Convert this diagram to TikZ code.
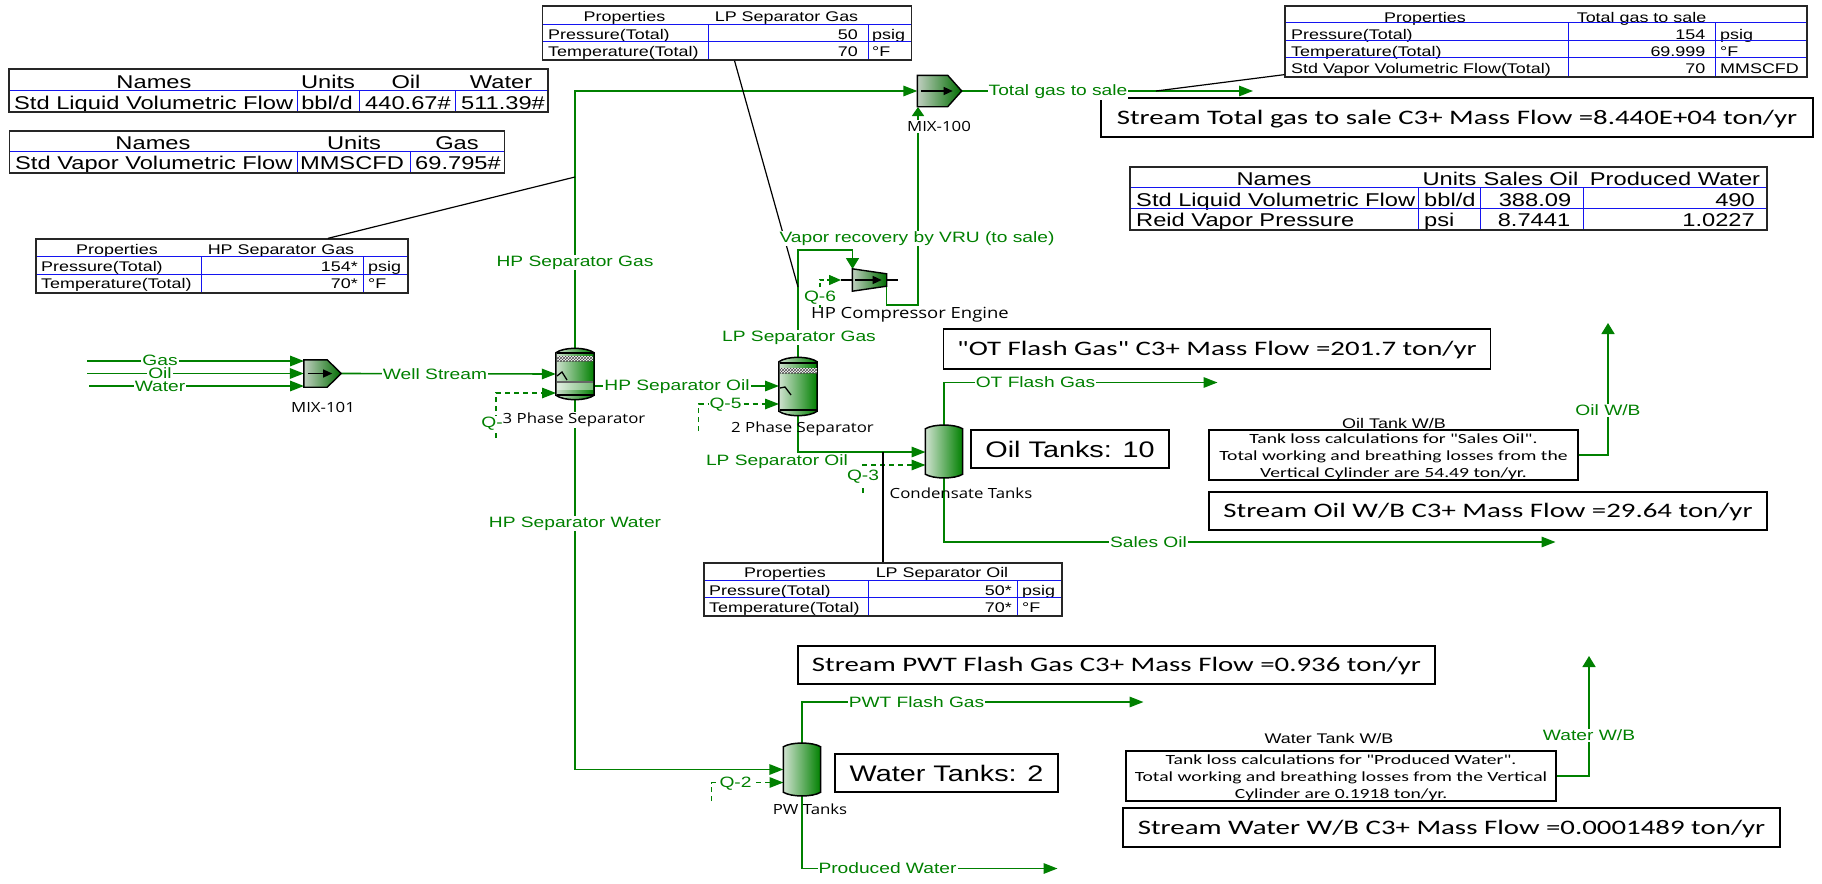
\documentclass[tikz,border=0pt]{standalone}
\usepackage{fontspec}
\usepackage{tikz}
\usetikzlibrary{arrows.meta,patterns}
\newfontfamily\tabfont[FakeStretch=1.28]{Liberation Sans}
\newfontfamily\boxfont[FakeStretch=1.4]{Carlito}
\newfontfamily\tagfont[FakeStretch=1.2]{Open Sans}
\definecolor{streamgreen}{RGB}{0,128,0}
\definecolor{palegreen}{RGB}{208,226,208}
\definecolor{gridblue}{RGB}{20,20,240}
\def\tankdome{8pt}

\def\tankbody#1#2{\draw[tank body] ([yshift=-#2]#1.north west) .. controls ([xshift=\tankdome,yshift=1pt]#1.north west) and ([xshift=-\tankdome,yshift=1pt]#1.north east) .. ([yshift=-#2]#1.north east) -- ([yshift=#2]#1.south east) .. controls ([xshift=-\tankdome,yshift=-1pt]#1.south east) and ([xshift=\tankdome,yshift=-1pt]#1.south west) .. ([yshift=#2]#1.south west) -- cycle;}
\def\mixerbody#1{\draw[mixer body] (#1.north west) -- ([xshift=-14pt]#1.north east) -- (#1.east) -- ([xshift=-14pt]#1.south east) -- (#1.south west) -- cycle;
	\draw[-{Triangle[length=9pt,width=8pt]},black,line width=1.3pt] ([xshift=4pt]#1.west) -- ([xshift=-9pt]#1.east);}

\begin{document}
\begin{tikzpicture}[x=1pt,y=-1pt,>={Triangle[length=14pt,width=10.5pt]}]
		\tikzstyle{stream}=[->,draw=streamgreen,fill=none,line width=1.6pt]
		\tikzstyle{riser}=[-{Triangle[length=11pt,width=13pt]},draw=streamgreen,line width=1.6pt]
		\tikzstyle{energy}=[stream,dash pattern=on 5pt off 4pt,line width=1.4pt]
		\tikzstyle{leader}=[draw=black,line width=1.2pt]
		\tikzstyle{grid line}=[draw=gridblue,line width=1pt]
		\tikzstyle{tab frame}=[draw=black!85,line width=1.3pt,inner sep=0pt]
		\tikzstyle{big cell}=[font=\tabfont\fontsize{18.5}{20}\selectfont,inner sep=0pt,text height=.72em,text depth=.08em,yshift=-4pt]
		\tikzstyle{small cell}=[font=\tabfont\fontsize{14}{16}\selectfont,inner sep=0pt,text height=.72em,text depth=.08em,yshift=-3.5pt]
		\tikzstyle{stream label}=[font=\tabfont\fontsize{15}{16}\selectfont,text=streamgreen,fill=white,inner sep=1pt,yshift=-1.5pt]
		\tikzstyle{equip label}=[font=\tagfont\fontsize{14}{16}\selectfont,text=black,inner sep=1pt,yshift=-2pt]
		\tikzstyle{result box}=[draw=black,line width=1.3pt,inner sep=0pt,text height=13pt,text depth=0pt,font=\boxfont\fontsize{20.6}{22}\selectfont]
		\tikzstyle{count box}=[draw=black,line width=1.3pt,inner sep=0pt,font=\tabfont\fontsize{22.5}{24}\selectfont]
		\tikzstyle{note box}=[draw=black,line width=1.3pt,inner sep=0pt,align=center,font=\boxfont\fontsize{14}{17}\selectfont]
		\tikzstyle{tank body}=[draw=black,line width=1.5pt,left color=palegreen,right color=streamgreen]
		\tikzstyle{mixer body}=[draw=black,line width=1.4pt,left color=palegreen!80!gray,right color=streamgreen!85!black]
		\tikzstyle{mesh band}=[pattern=crosshatch,pattern color=black!70]

		\useasboundingbox (0,0) rectangle (1822,883);

		\node[minimum width=37pt,minimum height=27pt,inner sep=0pt] (M-1) at (322.5,373.5) {};
		\node[minimum width=44pt,minimum height=31pt,inner sep=0pt] (M-2) at (939.5,91) {};
		\node[minimum width=38pt,minimum height=52pt,inner sep=0pt] (S-1) at (575,374) {};
		\node[minimum width=38pt,minimum height=59pt,inner sep=0pt] (S-2) at (798,386.5) {};
		\node[minimum width=37pt,minimum height=53pt,inner sep=0pt] (V-1) at (944,451.5) {};
		\node[minimum width=37pt,minimum height=53pt,inner sep=0pt] (V-2) at (802,769.5) {};
		\node[minimum width=34pt,minimum height=22pt,inner sep=0pt] (C-1) at (869.5,280) {};

		\coordinate (G-a) at (87,361);
		\coordinate (G-b) at (304,361);
		\coordinate (O-a) at (87,373.5);
		\coordinate (W-a) at (89,386);
		\coordinate (W-b) at (304,386);
		\coordinate (Q1-a) at (496,438);
		\coordinate (Q1-b) at (556,393);
		\coordinate (HG-j) at (575,177);
		\coordinate (Q5-a) at (698.6,431);
		\coordinate (Q5-b) at (779,404);
		\coordinate (HO-a) at (594,386);
		\coordinate (HO-b) at (779,386);
		\coordinate (LO-b) at (925.5,452);
		\coordinate (LO-j) at (883,452);
		\coordinate (Q3-a) at (863,493);
		\coordinate (Q3-b) at (925.5,465);
		\coordinate (OT-b) at (1217.5,382.5);
		\coordinate (SO-b) at (1555.5,542);
		\coordinate (Q2-a) at (711.5,801);
		\coordinate (Q2-b) at (783.5,782.5);
		\coordinate (PF-b) at (1143.5,702);
		\coordinate (PR-b) at (1057.5,868.5);
		\coordinate (TG-j) at (1156,91);
		\coordinate (TG-b) at (1253,91);
		\coordinate (LG-j) at (798,287);
		\coordinate (Q6-a) at (820,308);
		\coordinate (Q6-b) at (841,280);
		\coordinate (CO-a) at (886.5,284);
		\coordinate (CO-b) at (918,305);
		\coordinate (CO-c) at (918,107);
		\coordinate (VR-a) at (798,250);
		\coordinate (VR-b) at (852.5,269);
		\coordinate (OB-b) at (1608,323);
		\coordinate (WB-b) at (1589,656);

		\draw[stream] (G-a) -- (G-b);
		\draw[stream] (O-a) -- (M-1.west);
		\draw[stream] (W-a) -- (W-b);
		\draw[stream] (M-1.east) -- (S-1.west);
		\draw[energy] (Q1-a) |- (Q1-b);
		\draw[stream] (S-1.north) |- (M-2.west);
		\draw[stream] (S-1.south) |- (V-2.west);
		\draw[stream] (HO-a) -- (HO-b);
		\draw[energy] (Q5-a) |- (Q5-b);
		\draw[riser] (S-2.north) -- (VR-a) -| (VR-b);
		\draw[stream] (S-2.south) |- (LO-b);
		\draw[energy] (Q3-a) |- (Q3-b);
		\draw[stream] (V-1.north) |- (OT-b);
		\draw[stream] (V-1.south) |- (SO-b);
		\draw[energy] (Q2-a) |- (Q2-b);
		\draw[stream] (V-2.north) |- (PF-b);
		\draw[stream] (V-2.south) |- (PR-b);
		\draw[stream] (M-2.east) -- (TG-b);
		\draw[stream,-{Triangle[length=9pt,width=12pt]}] (CO-a) |- (CO-b) -- (CO-c);
		\draw[energy,dash pattern=on 4pt off 3pt,-{Triangle[length=12pt,width=10pt]}] (Q6-a) |- (Q6-b);

		\draw[black,line width=1.3pt] (Q6-b) -- (C-1.west);
		\draw[black,line width=1.3pt] (C-1.east) -- ++(11,0);

		\tankbody{S-1}{5pt}
		\fill[white] (557,356) rectangle (593,361);
		\fill[mesh band] (557,356) rectangle (593,361);
		\draw[black,line width=1.2pt] (556.5,353) -- (593.5,353);
		\draw[black,line width=1.2pt] (556.5,395) -- (593.5,395);
		\fill[white,opacity=.45] (557,382) rectangle (593,390);
		\draw[black!60,line width=1.2pt] (557,382) -- (593,382);
		\draw[black,line width=1.3pt] (557,376) -- (562,372) -- (567,380);

		\tankbody{S-2}{5pt}
		\fill[white] (780,368) rectangle (817,373);
		\fill[mesh band] (780,368) rectangle (817,373);
		\draw[black,line width=1.2pt] (779.5,363) -- (816.5,363);
		\draw[black,line width=1.2pt] (779.5,410) -- (816.5,410);
		\draw[black,line width=1.3pt] (780,388) -- (785,387) -- (791,395);

		\tankbody{V-1}{4pt}
		\tankbody{V-2}{4pt}
		\mixerbody{M-1}
		\mixerbody{M-2}
		\draw[mixer body] (C-1.north west) -- ([yshift=-5pt]C-1.north east) -- ([yshift=5pt]C-1.south east) -- (C-1.south west) -- cycle;
		\draw[-{Triangle[length=9pt,width=8pt]},black,line width=1.3pt] ([xshift=3pt]C-1.west) -- ([xshift=-5pt]C-1.east);

		\node[big cell] (T1-a) at (154,81) {Names};
		\node[big cell] (T1-b) at (328,81) {Units};
		\node[big cell] (T1-c) at (406,81) {Oil};
		\node[big cell] (T1-d) at (501,81) {Water};
		\node[big cell,anchor=west] (T1-e) at (14,102) {Std Liquid Volumetric Flow};
		\node[big cell] (T1-f) at (327,102) {bbl/d};
		\node[big cell] (T1-g) at (408,102) {440.67\#};
		\node[big cell] (T1-h) at (503,102) {511.39\#};
		\draw[grid line] (9,90) -- (548,90);
		\draw[grid line] (297,90) -- (297,112);
		\draw[grid line] (359,90) -- (359,112);
		\draw[grid line] (455,90) -- (455,112);
		\node[tab frame,minimum width=539pt,minimum height=43pt] (T-1) at (278.5,90.5) {};

		\node[big cell] (T2-a) at (153,142) {Names};
		\node[big cell] (T2-b) at (354,142) {Units};
		\node[big cell] (T2-c) at (457,142) {Gas};
		\node[big cell,anchor=west] (T2-d) at (15,162) {Std Vapor Volumetric Flow};
		\node[big cell] (T2-e) at (352,162) {MMSCFD};
		\node[big cell] (T2-f) at (458,162) {69.795\#};
		\draw[grid line] (9.5,151.5) -- (505,151.5);
		\draw[grid line] (297,151.5) -- (297,173);
		\draw[grid line] (410,151.5) -- (410,173);
		\node[tab frame,minimum width=495.5pt,minimum height=42pt] (T-2) at (257,152) {};

		\node[small cell] (T3-a) at (117,248) {Properties};
		\node[small cell] (T3-b) at (281,248) {HP Separator Gas};
		\node[small cell,anchor=west] (T3-c) at (41,265) {Pressure(Total)};
		\node[small cell,anchor=east] (T3-d) at (358,265) {154*};
		\node[small cell,anchor=west] (T3-e) at (368,265) {psig};
		\node[small cell,anchor=west] (T3-f) at (41,282) {Temperature(Total)};
		\node[small cell,anchor=east] (T3-g) at (358,282) {70*};
		\node[small cell,anchor=west] (T3-h) at (368,282) {°F};
		\draw[grid line] (36,256) -- (408,256);
		\draw[grid line] (36,274) -- (408,274);
		\draw[grid line] (201,256) -- (201,293);
		\draw[grid line] (363,256) -- (363,293);
		\node[tab frame,minimum width=372pt,minimum height=54pt] (T-3) at (222,266) {};

		\node[small cell] (T4-a) at (624.5,15) {Properties};
		\node[small cell] (T4-b) at (786.5,15) {LP Separator Gas};
		\node[small cell,anchor=west] (T4-c) at (548,33) {Pressure(Total)};
		\node[small cell,anchor=east] (T4-d) at (858,33) {50};
		\node[small cell,anchor=west] (T4-e) at (872,33) {psig};
		\node[small cell,anchor=west] (T4-f) at (548,50) {Temperature(Total)};
		\node[small cell,anchor=east] (T4-g) at (858,50) {70};
		\node[small cell,anchor=west] (T4-h) at (872,50) {°F};
		\draw[grid line] (542.5,24.5) -- (912,24.5);
		\draw[grid line] (542.5,41.5) -- (912,41.5);
		\draw[grid line] (708,24.5) -- (708,60);
		\draw[grid line] (868,24.5) -- (868,60);
		\node[tab frame,minimum width=369.5pt,minimum height=54pt] (T-4) at (727,33) {};

		\node[small cell] (T5-a) at (1425,15.5) {Properties};
		\node[small cell] (T5-b) at (1641.5,15.5) {Total gas to sale};
		\node[small cell,anchor=west] (T5-c) at (1291,32.5) {Pressure(Total)};
		\node[small cell,anchor=east] (T5-d) at (1705.5,32.5) {154};
		\node[small cell,anchor=west] (T5-e) at (1720,32.5) {psig};
		\node[small cell,anchor=west] (T5-f) at (1291,49.5) {Temperature(Total)};
		\node[small cell,anchor=east] (T5-g) at (1705.5,49.5) {69.999};
		\node[small cell,anchor=west] (T5-h) at (1720,49.5) {°F};
		\node[small cell,anchor=west] (T5-i) at (1291,67) {Std Vapor Volumetric Flow(Total)};
		\node[small cell,anchor=east] (T5-j) at (1705.5,67) {70};
		\node[small cell,anchor=west] (T5-k) at (1720,67) {MMSCFD};
		\draw[grid line] (1285,23) -- (1807,23);
		\draw[grid line] (1285,40.5) -- (1807,40.5);
		\draw[grid line] (1285,58) -- (1807,58);
		\draw[grid line] (1568,23) -- (1568,77);
		\draw[grid line] (1715,23) -- (1715,77);
		\node[tab frame,minimum width=522pt,minimum height=71pt] (T-5) at (1546,41.5) {};

		\node[big cell] (T6-a) at (1274,178) {Names};
		\node[big cell] (T6-b) at (1449.5,178) {Units};
		\node[big cell] (T6-c) at (1531,178) {Sales Oil};
		\node[big cell] (T6-d) at (1675,178) {Produced Water};
		\node[big cell,anchor=west] (T6-e) at (1136,199) {Std Liquid Volumetric Flow};
		\node[big cell,anchor=west] (T6-f) at (1424,199) {bbl/d};
		\node[big cell] (T6-g) at (1535,199) {388.09};
		\node[big cell,anchor=east] (T6-h) at (1755,199) {490};
		\node[big cell,anchor=west] (T6-i) at (1136,219) {Reid Vapor Pressure};
		\node[big cell,anchor=west] (T6-j) at (1424,219) {psi};
		\node[big cell] (T6-k) at (1534,219) {8.7441};
		\node[big cell,anchor=east] (T6-l) at (1755,219) {1.0227};
		\draw[grid line] (1130,187.5) -- (1767,187.5);
		\draw[grid line] (1130,208) -- (1767,208);
		\draw[grid line] (1418.5,187.5) -- (1418.5,230);
		\draw[grid line] (1480,187.5) -- (1480,230);
		\draw[grid line] (1583,187.5) -- (1583,230);
		\node[tab frame,minimum width=637pt,minimum height=63pt] (T-6) at (1448.5,198.5) {};

		\node[small cell] (T7-a) at (785,571) {Properties};
		\node[small cell] (T7-b) at (942,571) {LP Separator Oil};
		\node[small cell,anchor=west] (T7-c) at (709,588.5) {Pressure(Total)};
		\node[small cell,anchor=east] (T7-d) at (1012,588.5) {50*};
		\node[small cell,anchor=west] (T7-e) at (1022,588.5) {psig};
		\node[small cell,anchor=west] (T7-f) at (709,606) {Temperature(Total)};
		\node[small cell,anchor=east] (T7-g) at (1012,606) {70*};
		\node[small cell,anchor=west] (T7-h) at (1022,606) {°F};
		\draw[grid line] (704,580) -- (1062,580);
		\draw[grid line] (704,597.5) -- (1062,597.5);
		\draw[grid line] (868,580) -- (868,616);
		\draw[grid line] (1017,580) -- (1017,616);
		\node[tab frame,minimum width=358pt,minimum height=53pt] (T-7) at (883,589.5) {};

		\draw[leader] ([xshift=106pt]T-3.north) -- (HG-j);
		\draw[leader] ([xshift=7.5pt]T-4.south) -- (LG-j);
		\draw[leader] ([yshift=3pt]T-5.south west) -- (TG-j);
		\draw[leader] (T-7.north) -- (LO-j);

		\node[result box,minimum width=712pt,minimum height=39pt] (B-1) at (1457,117.5) {Stream Total gas to sale C3+ Mass Flow =8.440E+04 ton/yr};
		\node[result box,minimum width=547pt,minimum height=40pt] (B-2) at (1217,349) {"OT Flash Gas" C3+ Mass Flow =201.7 ton/yr};
		\node[count box,minimum width=198pt,minimum height=38pt] (B-3) at (1070,449) {Oil Tanks: 10};
		\node[note box,minimum width=369pt,minimum height=48pt] (B-4) at (1393.5,455) {\rule{0pt}{13.5pt}Tank loss calculations for "Sales Oil".\\Total working and breathing losses from the\\Vertical Cylinder are 54.49 ton/yr.};
		\node[result box,minimum width=558pt,minimum height=38pt] (B-5) at (1488,511) {Stream Oil W/B C3+ Mass Flow =29.64 ton/yr};
		\node[result box,minimum width=637pt,minimum height=38pt] (B-6) at (1116.5,665) {Stream PWT Flash Gas C3+ Mass Flow =0.936 ton/yr};
		\node[count box,minimum width=223pt,minimum height=38pt] (B-7) at (946.5,773) {Water Tanks: 2};
		\node[note box,minimum width=430pt,minimum height=50pt] (B-8) at (1341,776) {\rule{0pt}{13.5pt}Tank loss calculations for "Produced Water".\\Total working and breathing losses from the Vertical\\Cylinder are 0.1918 ton/yr.};
		\node[result box,minimum width=657pt,minimum height=39pt] (B-9) at (1451.5,827.5) {Stream Water W/B C3+ Mass Flow =0.0001489 ton/yr};

		\draw[riser] (B-4.east) -| (OB-b);
		\draw[riser] (B-8.east) -| (WB-b);

		\node[stream label] (L-1) at (160,359) {Gas};
		\node[stream label] (L-2) at (160,372) {Oil};
		\node[stream label] (L-3) at (160,385) {Water};
		\node[stream label] (L-4) at (435,373) {Well Stream};
		\node[stream label] (L-5) at (492,422) {Q-};
		\node[stream label] (L-6) at (575,261) {HP Separator Gas};
		\node[stream label] (L-7) at (575,522) {HP Separator Water};
		\node[stream label] (L-8) at (677,385) {HP Separator Oil};
		\node[stream label] (L-9) at (725.5,403) {Q-5};
		\node[stream label] (L-10) at (799,336) {LP Separator Gas};
		\node[stream label] (L-11) at (777,460) {LP Separator Oil};
		\node[stream label] (L-12) at (863,475) {Q-3};
		\node[stream label] (L-13) at (1035.5,381) {OT Flash Gas};
		\node[stream label] (L-14) at (1148.5,541) {Sales Oil};
		\node[stream label] (L-15) at (735.5,782) {Q-2};
		\node[stream label] (L-16) at (916.5,701) {PWT Flash Gas};
		\node[stream label] (L-17) at (887.5,867) {Produced Water};
		\node[stream label] (L-18) at (1058,90.5) {Total gas to sale};
		\node[stream label] (L-19) at (917,237) {Vapor recovery by VRU (to sale)};
		\node[stream label] (L-20) at (820,296) {Q-6};
		\node[stream label] (L-21) at (1608,409) {Oil W/B};
		\node[stream label] (L-22) at (1589,734) {Water W/B};

		\node[equip label] (E-1) at (323,405) {MIX-101};
		\node[equip label,fill=white] (E-2) at (574,418) {3 Phase Separator};
		\node[equip label] (E-3) at (802.5,427) {2 Phase Separator};
		\node[equip label] (E-4) at (961,491) {Condensate Tanks};
		\node[equip label] (E-5) at (810,807) {PW Tanks};
		\node[equip label,fill=white] (E-6) at (939,124.5) {MIX-100};
		\node[equip label,font=\tagfont\fontsize{15.4}{17}\selectfont] (E-7) at (910,313) {HP Compressor Engine};
		\node[small cell] (E-8) at (1394,422) {Oil Tank W/B};
		\node[small cell] (E-9) at (1329,737) {Water Tank W/B};
	\end{tikzpicture}
\end{document}
